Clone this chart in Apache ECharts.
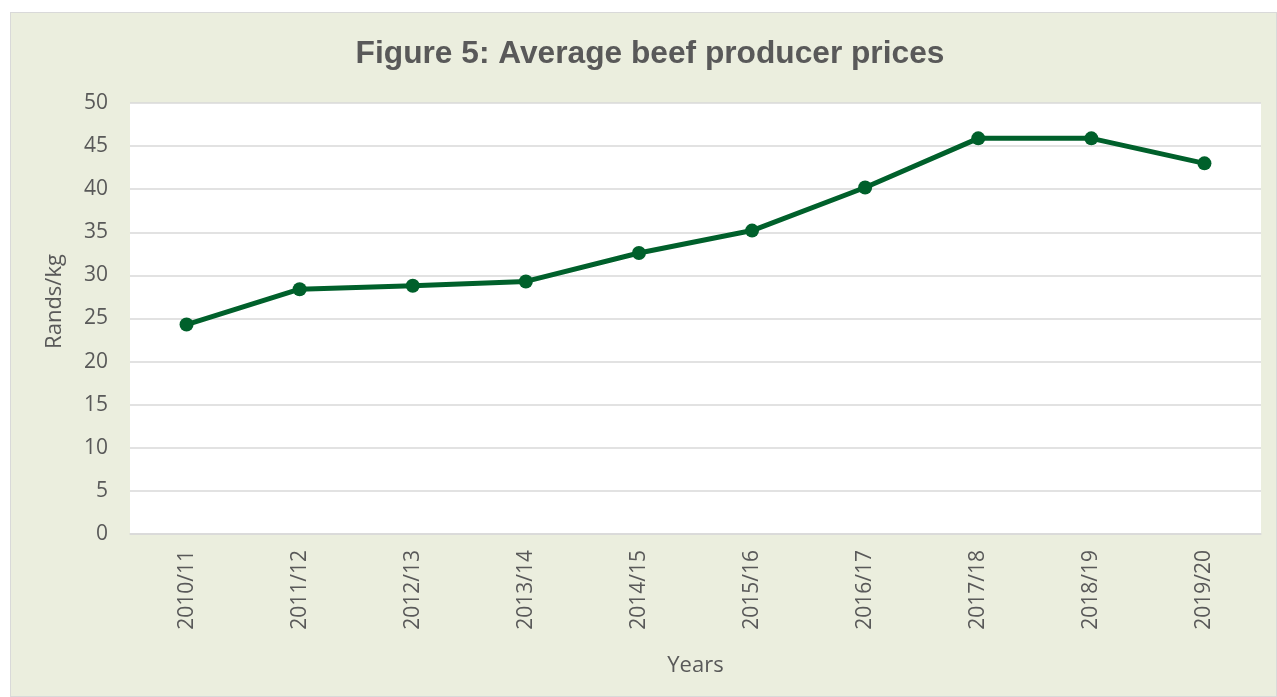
<!DOCTYPE html>
<html><head><meta charset="utf-8">
<script src="https://cdn.jsdelivr.net/npm/echarts@6/dist/echarts.min.js"></script>
<style>
html,body{margin:0;padding:0;background:#fff;width:1277px;height:697px;overflow:hidden;}
#frame{position:absolute;left:10px;top:12px;width:1265px;height:683px;background:#EBEEDE;border:1px solid #D9D9D9;}
#chart{position:absolute;left:0;top:0;width:1265px;height:683px;}
</style></head>
<body>
<div id="frame"><div id="chart"></div></div>
<script>
const categories = ["2010/11","2011/12","2012/13","2013/14","2014/15","2015/16","2016/17","2017/18","2018/19","2019/20"];
const prices = [24.3, 28.4, 28.8, 29.3, 32.6, 35.2, 40.2, 45.9, 45.9, 43.0];
const yTicks = {min:0, max:50, interval:5};
const titleText = "Figure 5: Average beef producer prices";
const yName = "Rands/kg";
const xName = "Years";

const chart = echarts.init(document.getElementById('chart'));
const labelFont = "'Open Sans', sans-serif";
chart.setOption({
  animation:false,
  backgroundColor:'transparent',
  title:{text:titleText,left:634,top:20,textAlign:'center',
    textStyle:{fontFamily:"'Liberation Sans', Arial, sans-serif",fontWeight:'bold',fontSize:31.7,color:'#595959'}},
  grid:{left:119,right:15,top:90,bottom:162,show:true,backgroundColor:'#ffffff',borderWidth:0},
  xAxis:{type:'category',data:categories,boundaryGap:true,
    name:xName,nameLocation:'middle',nameGap:121,
    nameTextStyle:{fontFamily:labelFont,fontSize:22,color:'#595959'},
    axisLine:{lineStyle:{color:'#D9D9D9',width:1.5}},axisTick:{show:false},
    axisLabel:{rotate:90,margin:16,fontFamily:labelFont,fontSize:21,color:'#595959'}},
  yAxis:{type:'value',min:yTicks.min,max:yTicks.max,interval:yTicks.interval,
    name:yName,nameLocation:'middle',nameGap:64,
    nameTextStyle:{fontFamily:labelFont,fontSize:22,color:'#595959',padding:[0,0,0,34]},
    axisLine:{show:false},axisTick:{show:false},
    splitLine:{lineStyle:{color:'#D9D9D9',width:1.5}},
    axisLabel:{margin:22,fontFamily:labelFont,fontSize:21,color:'#595959'}},
  series:[{type:'line',data:prices,symbol:'circle',symbolSize:14,
    lineStyle:{color:'#00602B',width:5},itemStyle:{color:'#00602B'}}]
});
</script>
</body></html>
